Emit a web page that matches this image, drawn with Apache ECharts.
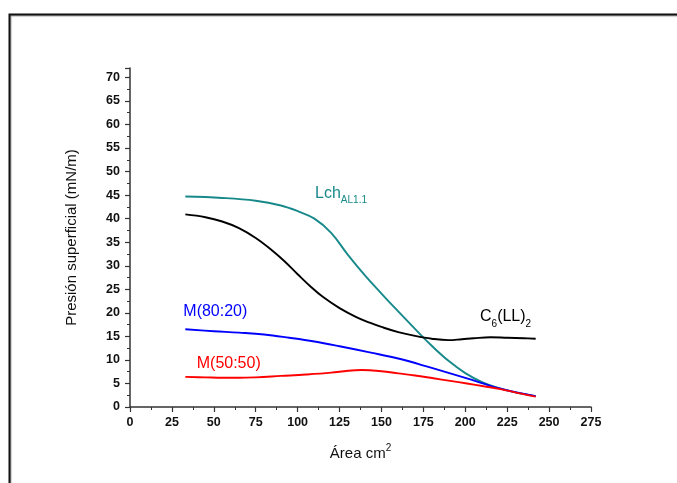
<!DOCTYPE html>
<html><head><meta charset="utf-8">
<script src="https://cdn.jsdelivr.net/npm/echarts@6/dist/echarts.min.js"></script>
<style>html,body{margin:0;padding:0;background:#fff}#c{width:677px;height:483px}</style>
</head><body><div id="c"></div>
<script>
const lchX = [33,55,75,90,100,110,120,130,140,150,160,170,180,190,200,210,220,230,242];
const lchY = [44.7,44.4,43.8,42.8,41.6,40.0,37.0,32.3,28.0,24.1,20.3,16.6,13.0,9.8,7.2,5.3,4.0,3.1,2.3];
const c6X = [33,45,55,65,75,85,92,100,108,115,125,135,143,150,160,170,180,190,198,205,215,225,235,242];
const c6Y = [40.9,40.3,39.4,38.0,35.9,33.2,31.0,28.2,25.5,23.4,21.0,19.1,17.9,17.0,15.9,15.1,14.5,14.2,14.4,14.6,14.8,14.7,14.6,14.5];
const m80X = [33,50,65,80,95,110,125,143,160,180,200,220,242];
const m80Y = [16.5,16.1,15.8,15.4,14.7,13.9,12.9,11.6,10.3,8.3,6.2,4.0,2.3];
const m50X = [33,45,55,65,75,90,105,120,130,138,143,150,160,170,181,191,201,211,221,231,242];
const m50Y = [6.4,6.3,6.2,6.2,6.3,6.6,6.9,7.3,7.7,7.85,7.8,7.6,7.15,6.7,6.1,5.55,5.0,4.4,3.8,3.0,2.2];
const yTicks = [0,5,10,15,20,25,30,35,40,45,50,55,60,65,70];
const xTicks = [0,25,50,75,100,125,150,175,200,225,250,275];

const zip = (xs, ys) => xs.map((x, i) => [x, ys[i]]);
const FONT = 'Liberation Sans';
const chart = echarts.init(document.getElementById('c'));
function line(name, xs, ys, color) {
  return {name, type:'line', data: zip(xs, ys), smooth: 0.4, showSymbol:false, symbol:'none',
    lineStyle:{color, width:1.9}, itemStyle:{color}, z:3};
}
const axisCommon = {
  axisLine:{show:true, onZero:false, lineStyle:{color:'#333', width:1.5}},
  axisTick:{show:true, inside:false, length:5, lineStyle:{color:'#333', width:1.2}},
  minorTick:{show:true, splitNumber:2, length:3, lineStyle:{color:'#333', width:1}},
  splitLine:{show:false},
  axisLabel:{color:'#111', fontFamily:FONT, fontWeight:'bold', fontSize:12.5}
};
chart.setOption({
  animation:false,
  backgroundColor:'#fff',
  grid:{left:130, right:86, top:68, bottom:76},
  xAxis: Object.assign({}, axisCommon, {
    type:'value', min:0, max:275, interval:25,
    name:'Área cm{sup|2}', nameLocation:'middle', nameGap:36,
    nameTextStyle:{color:'#111', fontFamily:FONT, fontSize:15,
      rich:{sup:{fontSize:10, verticalAlign:'top', lineHeight:22, fontFamily:FONT, color:'#111'}}},
    axisLabel: Object.assign({}, axisCommon.axisLabel, {margin:9,
      formatter: v => (xTicks.indexOf(v) >= 0 ? String(v) : '')})
  }),
  yAxis: Object.assign({}, axisCommon, {
    type:'value', min:0, max:72, interval:5,
    name:'Presión superficial (mN/m)', nameLocation:'middle', nameGap:51,
    nameTextStyle:{color:'#111', fontFamily:FONT, fontSize:15},
    axisLabel: Object.assign({}, axisCommon.axisLabel, {margin:10, showMaxLabel:false,
      formatter: v => (yTicks.indexOf(v) >= 0 ? String(v) : '')})
  }),
  series:[
    line('Lch', lchX, lchY, '#17898a'),
    line('C6', c6X, c6Y, '#000000'),
    line('M80', m80X, m80Y, '#0000ff'),
    line('M50', m50X, m50Y, '#ff0000')
  ]
});

const labels = [
  {at:[110.4, 45.4], text:'Lch{sub|AL1.1}', color:'#17898a'},
  {at:[208.8, 19.2], text:'C{sub|6}(LL){sub|2}', color:'#000000'},
  {at:[31.8, 20.3], text:'M(80:20)', color:'#0000ff'},
  {at:[39.8, 9.3], text:'M(50:50)', color:'#ff0000'}
];
const g = [{type:'rect', left:7, top:12, shape:{x:0,y:0,width:700,height:500},
  style:{fill:null, stroke:'#111', lineWidth:2, shadowColor:'rgba(0,0,0,0.35)', shadowOffsetX:1, shadowOffsetY:1, shadowBlur:1}, z:0, silent:true}];
labels.forEach(l => {
  const p = chart.convertToPixel({gridIndex:0}, l.at);
  g.push({type:'text', x:p[0], y:p[1], z:10, style:{
    text:l.text, fill:l.color, fontFamily:FONT, fontSize:16,
    align:'left', verticalAlign:'middle', lineHeight:25,
    rich:{sub:{fontSize:10, fontFamily:FONT, fill:l.color, verticalAlign:'bottom', lineHeight:25}}
  }});
});
chart.setOption({graphic:g});
</script></body></html>
